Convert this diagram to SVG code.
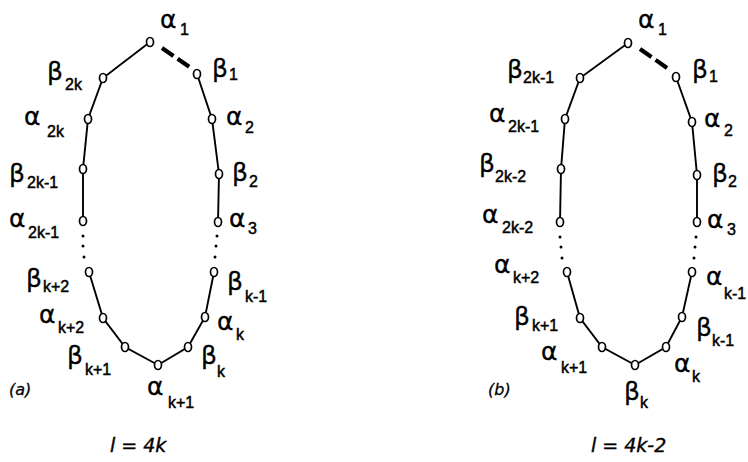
<svg xmlns="http://www.w3.org/2000/svg" width="748" height="462" viewBox="0 0 748 462">
<style>
.e{stroke:#000;stroke-width:1.9;fill:none}
.d{stroke:#000;stroke-width:4.2;stroke-dasharray:14 5;fill:none}
.n{fill:#fff;stroke:#000;stroke-width:1.7}
.dot{fill:#000}
.g{font-family:"DejaVu Sans",sans-serif;font-size:25px;fill:#000;stroke:#000;stroke-width:0.3}
.s{font-family:"Liberation Sans",sans-serif;font-size:16px;fill:#000;stroke:#000;stroke-width:0.45}
.c{font-family:"DejaVu Sans",sans-serif;font-style:italic;font-size:16px;fill:#000;stroke:#000;stroke-width:0.3}
.f{font-family:"DejaVu Sans",sans-serif;font-style:italic;font-size:19px;fill:#000;stroke:#000;stroke-width:0.4}
</style>
<rect width="748" height="462" fill="#fff"/>
<g id="connectors">
<polyline class="e" points="150,42 103,78 88,119 83,169 83,221"/>
<polyline class="e" points="89,272 103,318 125,347 158,365 188,347 205,317 214,272"/>
<polyline class="e" points="218,222 219,174 212,119 197,74"/>
<line class="d" x1="162" y1="48" x2="191" y2="68"/>
<circle class="dot" cx="83" cy="236" r="1.5"/><circle class="dot" cx="83" cy="246" r="1.5"/><circle class="dot" cx="84" cy="257" r="1.5"/>
<circle class="dot" cx="217" cy="236" r="1.5"/><circle class="dot" cx="216" cy="246" r="1.5"/><circle class="dot" cx="215" cy="257" r="1.5"/>
<polyline class="e" points="628,43 580,78 565,119 561,169 560,222"/>
<polyline class="e" points="567,272 580,318 602,347 635,365 666,347 682,317 692,272"/>
<polyline class="e" points="697,222 697,175 692,122 676,77"/>
<line class="d" x1="640" y1="49" x2="670" y2="70"/>
<circle class="dot" cx="560" cy="237" r="1.5"/><circle class="dot" cx="561" cy="247" r="1.5"/><circle class="dot" cx="562" cy="258" r="1.5"/>
<circle class="dot" cx="696" cy="237" r="1.5"/><circle class="dot" cx="695" cy="247" r="1.5"/><circle class="dot" cx="694" cy="258" r="1.5"/>
</g>
<!-- diagram (a) -->
<g id="a_alpha1"><ellipse class="n" cx="150" cy="42" rx="3.5" ry="4.5"/><text class="g" x="160" y="28">α</text><text class="s" x="180" y="35">1</text></g>
<g id="a_beta1"><ellipse class="n" cx="197" cy="74" rx="3.5" ry="4.5"/><text class="g" x="212" y="77">β</text><text class="s" x="229" y="80">1</text></g>
<g id="a_alpha2"><ellipse class="n" cx="212" cy="119" rx="3.5" ry="4.5"/><text class="g" x="226" y="125">α</text><text class="s" x="245" y="133">2</text></g>
<g id="a_beta2"><ellipse class="n" cx="219" cy="174" rx="3.5" ry="4.5"/><text class="g" x="232" y="181">β</text><text class="s" x="249" y="187">2</text></g>
<g id="a_alpha3"><ellipse class="n" cx="218" cy="222" rx="3.5" ry="4.5"/><text class="g" x="229" y="227">α</text><text class="s" x="248" y="234">3</text></g>
<g id="a_betak-1"><ellipse class="n" cx="214" cy="272" rx="3.5" ry="4.5"/><text class="g" x="227" y="290">β</text><text class="s" x="245" y="302">k-1</text></g>
<g id="a_alphak"><ellipse class="n" cx="205" cy="317" rx="3.5" ry="4.5"/><text class="g" x="217" y="330">α</text><text class="s" x="236" y="340">k</text></g>
<g id="a_betak"><ellipse class="n" cx="188" cy="347" rx="3.5" ry="4.5"/><text class="g" x="201" y="364">β</text><text class="s" x="217" y="377">k</text></g>
<g id="a_alphak+1"><ellipse class="n" cx="158" cy="365" rx="3.5" ry="4.5"/><text class="g" x="147" y="395">α</text><text class="s" x="168" y="408">k+1</text></g>
<g id="a_betak+1"><ellipse class="n" cx="125" cy="347" rx="3.5" ry="4.5"/><text class="g" x="67" y="364">β</text><text class="s" x="85" y="375">k+1</text></g>
<g id="a_alphak+2"><ellipse class="n" cx="103" cy="318" rx="3.5" ry="4.5"/><text class="g" x="39" y="323">α</text><text class="s" x="58" y="333">k+2</text></g>
<g id="a_betak+2"><ellipse class="n" cx="89" cy="272" rx="3.5" ry="4.5"/><text class="g" x="26" y="287">β</text><text class="s" x="43" y="292">k+2</text></g>
<g id="a_alpha2k-1"><ellipse class="n" cx="83" cy="221" rx="3.5" ry="4.5"/><text class="g" x="9" y="227">α</text><text class="s" x="28" y="238">2k-1</text></g>
<g id="a_beta2k-1"><ellipse class="n" cx="83" cy="169" rx="3.5" ry="4.5"/><text class="g" x="9" y="182">β</text><text class="s" x="27" y="188">2k-1</text></g>
<g id="a_alpha2k"><ellipse class="n" cx="88" cy="119" rx="3.5" ry="4.5"/><text class="g" x="24" y="125">α</text><text class="s" x="47" y="137">2k</text></g>
<g id="a_beta2k"><ellipse class="n" cx="103" cy="78" rx="3.5" ry="4.5"/><text class="g" x="47" y="80">β</text><text class="s" x="65" y="90">2k</text></g>
<text class="c" x="9" y="395">(a)</text>
<text class="f" x="110" y="452">l = 4k</text>
<!-- diagram (b) -->
<g id="b_alpha1"><ellipse class="n" cx="628" cy="43" rx="3.5" ry="4.5"/><text class="g" x="638" y="28">α</text><text class="s" x="658" y="35">1</text></g>
<g id="b_beta1"><ellipse class="n" cx="676" cy="77" rx="3.5" ry="4.5"/><text class="g" x="692" y="78">β</text><text class="s" x="709" y="82">1</text></g>
<g id="b_alpha2"><ellipse class="n" cx="692" cy="122" rx="3.5" ry="4.5"/><text class="g" x="704" y="127">α</text><text class="s" x="724" y="136">2</text></g>
<g id="b_beta2"><ellipse class="n" cx="697" cy="175" rx="3.5" ry="4.5"/><text class="g" x="712" y="182">β</text><text class="s" x="728" y="187">2</text></g>
<g id="b_alpha3"><ellipse class="n" cx="697" cy="222" rx="3.5" ry="4.5"/><text class="g" x="707" y="228">α</text><text class="s" x="727" y="235">3</text></g>
<g id="b_alphak-1"><ellipse class="n" cx="692" cy="272" rx="3.5" ry="4.5"/><text class="g" x="706" y="285">α</text><text class="s" x="724" y="299">k-1</text></g>
<g id="b_betak-1"><ellipse class="n" cx="682" cy="317" rx="3.5" ry="4.5"/><text class="g" x="696" y="336">β</text><text class="s" x="712" y="346">k-1</text></g>
<g id="b_alphak"><ellipse class="n" cx="666" cy="347" rx="3.5" ry="4.5"/><text class="g" x="674" y="372">α</text><text class="s" x="692" y="382">k</text></g>
<g id="b_betak"><ellipse class="n" cx="635" cy="365" rx="3.5" ry="4.5"/><text class="g" x="624" y="400">β</text><text class="s" x="640" y="408">k</text></g>
<g id="b_alphak+1"><ellipse class="n" cx="602" cy="347" rx="3.5" ry="4.5"/><text class="g" x="541" y="360">α</text><text class="s" x="561" y="373">k+1</text></g>
<g id="b_betak+1"><ellipse class="n" cx="580" cy="318" rx="3.5" ry="4.5"/><text class="g" x="514" y="325">β</text><text class="s" x="532" y="331">k+1</text></g>
<g id="b_alphak+2"><ellipse class="n" cx="567" cy="272" rx="3.5" ry="4.5"/><text class="g" x="494" y="273">α</text><text class="s" x="513" y="283">k+2</text></g>
<g id="b_alpha2k-2"><ellipse class="n" cx="560" cy="222" rx="3.5" ry="4.5"/><text class="g" x="482" y="223">α</text><text class="s" x="502" y="233">2k-2</text></g>
<g id="b_beta2k-2"><ellipse class="n" cx="561" cy="169" rx="3.5" ry="4.5"/><text class="g" x="479" y="172">β</text><text class="s" x="495" y="182">2k-2</text></g>
<g id="b_alpha2k-1"><ellipse class="n" cx="565" cy="119" rx="3.5" ry="4.5"/><text class="g" x="489" y="122">α</text><text class="s" x="508" y="132">2k-1</text></g>
<g id="b_beta2k-1"><ellipse class="n" cx="580" cy="78" rx="3.5" ry="4.5"/><text class="g" x="507" y="78">β</text><text class="s" x="523" y="83">2k-1</text></g>
<text class="c" x="488" y="395">(b)</text>
<text class="f" x="591" y="452">l = 4k-2</text>
</svg>
